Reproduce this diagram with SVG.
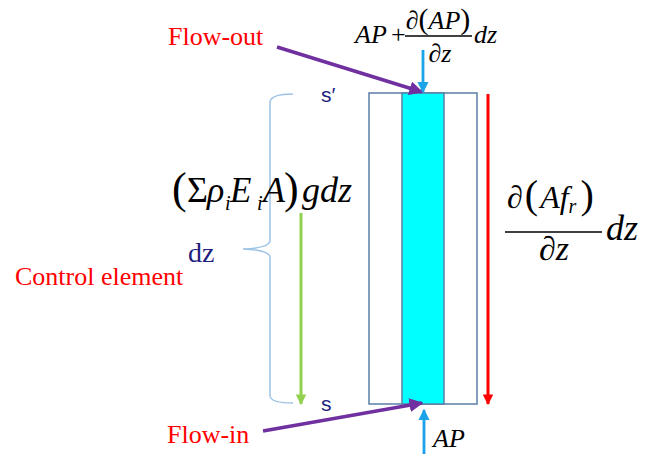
<svg xmlns="http://www.w3.org/2000/svg" width="646" height="454" viewBox="0 0 646 454">
<style>
.lbl{font-family:"Liberation Serif","Times New Roman",serif;font-size:26px;fill:#ff0000}
.m{font-family:"Liberation Serif","Times New Roman",serif;font-style:italic;fill:#000}
.up{font-style:normal}
.sans{font-family:"Liberation Sans",Arial,sans-serif;font-size:21px;fill:#1f1f80}
.navy{font-family:"Liberation Serif","Times New Roman",serif;font-size:28px;fill:#1f1f80}
.bar{stroke:#000;stroke-width:1.4}
</style>
<defs>
<marker id="aPur" viewBox="0 0 10 10" refX="9" refY="5" markerWidth="4" markerHeight="4" orient="auto" markerUnits="strokeWidth"><path d="M0,0 L10,5 L0,10 z" fill="#7030a0"/></marker>
<marker id="aBlu" viewBox="0 0 10 10" refX="9" refY="5" markerWidth="4" markerHeight="4" orient="auto" markerUnits="strokeWidth"><path d="M0,0 L10,5 L0,10 z" fill="#1aa3e8"/></marker>
<marker id="aRed" viewBox="0 0 10 10" refX="9" refY="5" markerWidth="4" markerHeight="3.5" orient="auto" markerUnits="strokeWidth"><path d="M0,0 L10,5 L0,10 z" fill="#ff0000"/></marker>
<marker id="aGrn" viewBox="0 0 10 10" refX="9" refY="5" markerWidth="4" markerHeight="3.5" orient="auto" markerUnits="strokeWidth"><path d="M0,0 L10,5 L0,10 z" fill="#92d050"/></marker>
</defs>
<rect width="646" height="454" fill="#fff"/>

<g id="element">
<rect x="369" y="93" width="108" height="311" fill="#fff" stroke="#5b7fa6" stroke-width="1.5"/>
<rect x="402" y="93" width="42" height="311" fill="#00ffff" stroke="#5b7fa6" stroke-width="1.5"/>
</g>

<g id="brace">
<path d="M293,94 Q271,94 270,102 L270,241 Q269,248 243,249 Q269,250 270,257 L270,396 Q271,403 293,403" fill="none" stroke="#9dc3e6" stroke-width="1.5"/>
</g>

<g id="connectors">
<line x1="277" y1="47" x2="422" y2="92" stroke="#7030a0" stroke-width="3.5" marker-end="url(#aPur)"/>
<line x1="263" y1="431" x2="422" y2="403" stroke="#7030a0" stroke-width="3.5" marker-end="url(#aPur)"/>
<line x1="423" y1="50" x2="423" y2="92" stroke="#1aa3e8" stroke-width="2.8" marker-end="url(#aBlu)"/>
<line x1="424" y1="454" x2="424" y2="410" stroke="#1aa3e8" stroke-width="2.8" marker-end="url(#aBlu)"/>
<line x1="488" y1="94" x2="488" y2="404" stroke="#ff0000" stroke-width="3" marker-end="url(#aRed)"/>
<line x1="301" y1="213" x2="301" y2="404" stroke="#92d050" stroke-width="3" marker-end="url(#aGrn)"/>
</g>

<g id="labels">
<text class="lbl" x="168" y="45">Flow-out</text>
<text class="lbl" x="167" y="443">Flow-in</text>
<text class="lbl" x="15" y="285">Control element</text>
<text class="navy" x="188" y="262">dz</text>
<text class="sans" x="321" y="102">s′</text>
<text class="sans" x="321" y="411">s</text>
</g>

<g id="formula-top">
<text class="m" x="355" y="43" font-size="26">AP</text>
<text class="m up" x="391" y="43" font-size="26">+</text>
<line class="bar" x1="405" y1="36" x2="472" y2="36"/>
<text class="m" x="438" y="29" font-size="26" text-anchor="middle"><tspan class="up">∂</tspan><tspan class="up" font-size="30">(</tspan>AP<tspan class="up" font-size="30">)</tspan></text>
<text class="m" x="440" y="62" font-size="26" text-anchor="middle"><tspan class="up">∂</tspan>z</text>
<text class="m" x="474" y="43" font-size="26">dz</text>
</g>

<g id="formula-bottom">
<text class="m" x="433" y="447" font-size="26">AP</text>
</g>

<g id="formula-gravity">
<text class="m up" x="172" y="203" font-size="44">(</text>
<text class="m up" x="187" y="202" font-size="36">Σ</text>
<text class="m" x="207" y="202" font-size="36">ρ</text>
<text class="m" x="225" y="210" font-size="20">i</text>
<text class="m" x="230" y="202" font-size="35">E</text>
<text class="m" x="257" y="210" font-size="20">i</text>
<text class="m" x="263" y="202" font-size="36">A</text>
<text class="m up" x="284" y="203" font-size="44">)</text>
<text class="m" x="302" y="202" font-size="36">gdz</text>
</g>

<g id="formula-friction">
<text class="m" x="507" y="208" font-size="32"><tspan class="up">∂</tspan><tspan class="up" font-size="40" dx="2">(</tspan><tspan dx="2">Af</tspan><tspan font-size="20" dy="5">r</tspan><tspan class="up" font-size="40" dy="-5" dx="4">)</tspan></text>
<line class="bar" x1="505" y1="232" x2="602" y2="232"/>
<text class="m" x="554" y="260" font-size="34" text-anchor="middle"><tspan class="up">∂</tspan>z</text>
<text class="m" x="606" y="240" font-size="36">dz</text>
</g>
</svg>
